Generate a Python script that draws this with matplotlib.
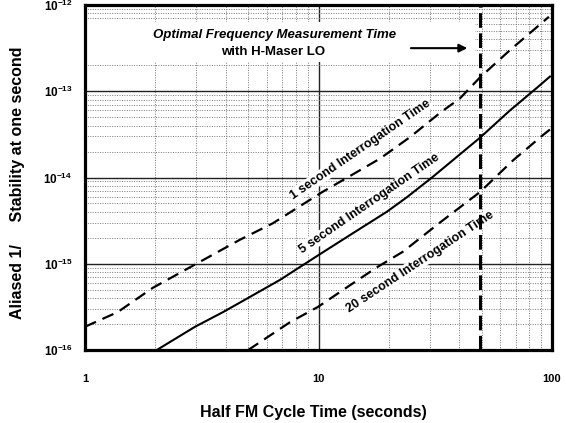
import matplotlib
matplotlib.use('Agg')
import matplotlib.pyplot as plt
from matplotlib.patches import Rectangle

plt.rcParams['font.family'] = ['Liberation Sans', 'DejaVu Sans']
plt.rcParams['mathtext.fontset'] = 'custom'
plt.rcParams['mathtext.rm'] = 'Liberation Sans'
plt.rcParams['mathtext.bf'] = 'Liberation Sans:bold'
plt.rcParams['mathtext.it'] = 'Liberation Sans:italic'

# ---- data ----
# 1 second interrogation time (dashed)
t_1s = [1.0, 1.38, 1.95, 2.96, 4.61, 6.38, 10.4, 18.3, 24.7, 33.1, 40.4, 49.2, 66.1, 97.0]
s_1s = [1.86e-16, 2.75e-16, 5.25e-16, 9.8e-16, 1.9e-15, 2.95e-15, 6.8e-15, 1.65e-14,
        2.95e-14, 5.6e-14, 8.3e-14, 1.45e-13, 3.0e-13, 7.3e-13]
# 5 second interrogation time (solid)
t_5s = [2.03, 2.96, 3.9, 4.61, 6.84, 9.86, 13.6, 19.6, 23.9, 30.9, 49.2, 66.1, 86.3, 98.0]
s_5s = [1.0e-16, 1.86e-16, 2.75e-16, 3.55e-16, 6.5e-16, 1.23e-15, 2.14e-15, 4.0e-15,
        5.9e-15, 1.02e-14, 2.9e-14, 6.0e-14, 1.1e-13, 1.48e-13]
# 20 second interrogation time (dashed)
t_20s = [5.0, 7.55, 9.95, 13.6, 17.8, 23.0, 33.1, 49.2, 68.1, 91.4, 98.0]
s_20s = [1.0e-16, 2.1e-16, 3.16e-16, 5.6e-16, 9.1e-16, 1.38e-15, 3.0e-15, 6.8e-15,
         1.58e-14, 3.1e-14, 3.6e-14]
# optimal measurement time (vertical dashed line)
t_optimal = 49.0

x_ticks = [1, 10, 100]
x_tick_labels = ['1', '10', '100']
y_ticks = [1e-16, 1e-15, 1e-14, 1e-13, 1e-12]
y_tick_labels = [r'$\mathbf{10^{-16}}$', r'$\mathbf{10^{-15}}$', r'$\mathbf{10^{-14}}$',
                 r'$\mathbf{10^{-13}}$', r'$\mathbf{10^{-12}}$']

W, H = 566, 423
fig = plt.figure(figsize=(W / 100, H / 100), dpi=100)
ax = fig.add_axes([85 / W, 73 / H, 467 / W, 345 / H])
ax.set_xscale('log')
ax.set_yscale('log')
ax.set_xlim(1, 100)
ax.set_ylim(1e-16, 1e-12)

ax.set_axisbelow(True)
ax.grid(which='major', color='#222222', linewidth=1.0, linestyle='-')
ax.grid(which='minor', color='#777777', linewidth=0.7, linestyle=(0, (1, 1.5)))

ax.set_xticks(x_ticks)
ax.set_xticklabels(x_tick_labels, fontsize=8, fontweight='bold')
ax.set_yticks(y_ticks)
ax.set_yticklabels(y_tick_labels, fontsize=8.5)
ax.tick_params(which='both', length=0)
ax.tick_params(axis='x', pad=17)
ax.tick_params(axis='y', pad=9)

for sp in ax.spines.values():
    sp.set_linewidth(2.3)
    sp.set_color('black')

# white area behind the title text
ax.add_patch(Rectangle((0.005, 0.835), 0.83, 0.115, transform=ax.transAxes,
                       facecolor='white', edgecolor='none', zorder=1))

ax.plot(t_1s, s_1s, color='black', lw=1.6, dashes=(5.4, 3.2), zorder=3)
ax.plot(t_5s, s_5s, color='black', lw=1.5, zorder=3)
ax.plot(t_20s, s_20s, color='black', lw=1.6, dashes=(5.4, 3.2), zorder=3)
ax.axvline(t_optimal, color='black', lw=2.2, dashes=(4.8, 1.8), zorder=4)

ax.text(6.5, 4.5e-13, 'Optimal Frequency Measurement Time', ha='center', va='center',
        fontsize=9.5, fontweight='bold', fontstyle='italic', zorder=5)
ax.text(6.4, 2.85e-13, 'with H-Maser LO', ha='center', va='center',
        fontsize=9.5, fontweight='bold', zorder=5)
ax.annotate('', xy=(44.6, 3.16e-13), xytext=(24.2, 3.16e-13),
            arrowprops=dict(arrowstyle='-|>', color='black', lw=1.5, mutation_scale=12),
            zorder=5)

lbl_kw = dict(ha='center', va='center', fontsize=9, fontweight='bold',
              rotation_mode='anchor', zorder=2,
              bbox=dict(facecolor='white', edgecolor='none', pad=0.5))
ax.text(15.1, 2.1e-14, '1 second Interrogation Time', rotation=34.5, **lbl_kw)
ax.text(16.6, 5.0e-15, '5 second Interrogation Time', rotation=34.5, **lbl_kw)
ax.text(27.2, 1.05e-15, '20 second Interrogation Time', rotation=33.5, **lbl_kw)

fig.text(313 / W, 1 - 412 / H, 'Half FM Cycle Time (seconds)', ha='center', va='center',
         fontsize=11.5, fontweight='bold')
fig.text(18 / W, 1 - 183 / H, 'Aliased 1/     Stability at one second', ha='center',
         va='center', rotation=90, fontsize=11.5, fontweight='bold')

fig.savefig('out.png', dpi=100)
